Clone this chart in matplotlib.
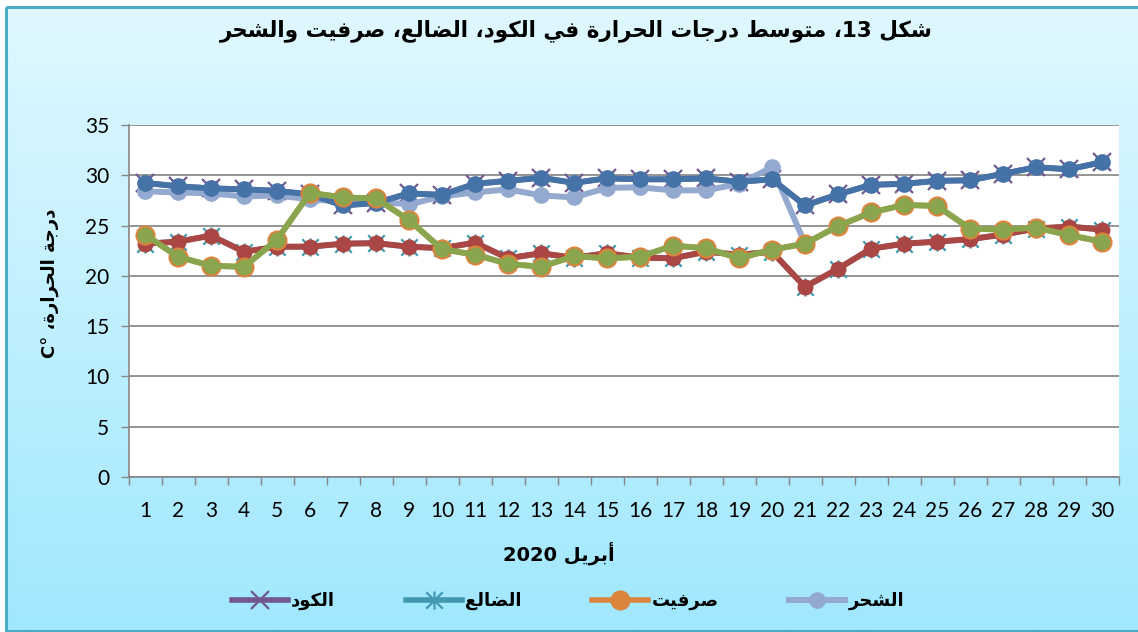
import re
import numpy as np
import matplotlib
matplotlib.use("Agg")
import matplotlib.pyplot as plt
from matplotlib.path import Path
from matplotlib.patches import Rectangle

# daily mean temperature, April 2020
days = list(range(1, 31))
kod = [29.25, 28.9, 28.7, 28.6, 28.45, 28.1, 27.0, 27.25, 28.2, 28.05,
       29.15, 29.45, 29.75, 29.25, 29.7, 29.6, 29.6, 29.7, 29.35, 29.6,
       27.0, 28.1, 29.05, 29.15, 29.45, 29.5, 30.15, 30.8, 30.6, 31.3]
dhale = [23.2, 23.4, 24.0, 22.4, 22.9, 22.9, 23.2, 23.25, 22.9, 22.75,
         23.3, 21.75, 22.25, 21.8, 22.25, 21.8, 21.75, 22.4, 22.1, 22.4,
         18.9, 20.7, 22.7, 23.2, 23.4, 23.65, 24.1, 24.7, 24.9, 24.6]
sarfait = [24.1, 21.9, 21.0, 20.9, 23.6, 28.25, 27.8, 27.7, 25.55, 22.65,
           22.1, 21.2, 20.9, 21.95, 21.75, 21.9, 23.0, 22.75, 21.75, 22.6,
           23.2, 24.95, 26.3, 27.05, 26.95, 24.7, 24.6, 24.8, 24.05, 23.4]
shihr = [28.4, 28.3, 28.2, 27.9, 28.0, 27.6, 27.4, 27.4, 27.1, 27.9,
         28.3, 28.6, 28.0, 27.8, 28.75, 28.8, 28.5, 28.5, 29.15, 30.8,
         23.2] + [np.nan] * 9

yticks = [0, 5, 10, 15, 20, 25, 30, 35]
title = "شكل 13، متوسط درجات الحرارة في الكود، الضالع، صرفيت والشحر"
xlabel = "أبريل 2020"
ylabel = "درجة الحرارة، C°"
names = ["الكود", "الضالع", "صرفيت", "الشحر"]

# matplotlib has no arabic shaping, so do it by hand with presentation forms
FORMS = {
    'ا': '\ufe8d\ufe8e', 'أ': '\ufe83\ufe84', 'ب': '\ufe8f\ufe90\ufe91\ufe92',
    'ة': '\ufe93\ufe94', 'ت': '\ufe95\ufe96\ufe97\ufe98', 'ج': '\ufe9d\ufe9e\ufe9f\ufea0',
    'ح': '\ufea1\ufea2\ufea3\ufea4', 'د': '\ufea9\ufeaa', 'ر': '\ufead\ufeae',
    'س': '\ufeb1\ufeb2\ufeb3\ufeb4', 'ش': '\ufeb5\ufeb6\ufeb7\ufeb8', 'ص': '\ufeb9\ufeba\ufebb\ufebc',
    'ض': '\ufebd\ufebe\ufebf\ufec0', 'ط': '\ufec1\ufec2\ufec3\ufec4', 'ع': '\ufec9\ufeca\ufecb\ufecc',
    'ف': '\ufed1\ufed2\ufed3\ufed4', 'ك': '\ufed9\ufeda\ufedb\ufedc', 'ل': '\ufedd\ufede\ufedf\ufee0',
    'م': '\ufee1\ufee2\ufee3\ufee4', 'و': '\ufeed\ufeee', 'ي': '\ufef1\ufef2\ufef3\ufef4',
}


def shape(text):
    out = []
    for i, ch in enumerate(text):
        f = FORMS.get(ch)
        if f is None:
            out.append(ch)
            continue
        prev = text[i - 1] if i > 0 else ''
        nxt = text[i + 1] if i + 1 < len(text) else ''
        jp = prev in FORMS and len(FORMS[prev]) == 4
        jn = len(f) == 4 and nxt in FORMS
        if jp and jn:
            out.append(f[3])
        elif jp:
            out.append(f[1])
        elif jn:
            out.append(f[2])
        else:
            out.append(f[0])
    return ''.join(out)


def ar(text):
    parts = re.split(r'([A-Za-z0-9°]+)', shape(text))
    return ''.join(p if re.fullmatch(r'[A-Za-z0-9°]+', p) else p[::-1]
                   for p in reversed(parts))


W, H = 1138, 632
fig = plt.figure(figsize=(W / 100, H / 100), dpi=100)
fig.patch.set_facecolor('white')

# gradient background + border
bg = fig.add_axes([0, 0, 1, 1], zorder=-10)
bg.set_xlim(0, W)
bg.set_ylim(H, 0)
bg.axis('off')
top_c = np.array([224, 248, 255]) / 255
bot_c = np.array([160, 232, 254]) / 255
t = np.linspace(0, 1, 256)[:, None]
grad = (top_c * (1 - t) + bot_c * t)[:, None, :]
bg.imshow(grad, extent=(7, W + 2, H - 2, 7), aspect='auto', interpolation='bilinear')
bg.add_patch(Rectangle((6.5, 6.5), W, H - 7.5, fill=False, ec='#4BACC6', lw=2.2))

ax = fig.add_axes([128.5 / W, 1 - 477 / H, 990 / W, 352 / H], zorder=1)
ax.set_facecolor('white')

star = Path([(-1, -1), (1, 1), (-1, 1), (1, -1), (0, -1.1), (0, 1.1)],
            [Path.MOVETO, Path.LINETO, Path.MOVETO, Path.LINETO, Path.MOVETO, Path.LINETO])

l_kod, = ax.plot(days, kod, color='#71588F', lw=4, marker='x', ms=13, mew=1.6, zorder=2)
l_shihr, = ax.plot(days, shihr, color='#93A9CF', lw=4.3, marker='o', ms=11, zorder=3)
ax.plot(days, kod, color='#4572A7', lw=4.3, marker='o', ms=11, zorder=4)
l_dhale, = ax.plot(days, dhale, color='#4198AF', lw=4, marker=star, ms=13, mew=1.6, zorder=5)
ax.plot(days, dhale, color='#AA4643', lw=4.3, marker='o', ms=10.5, zorder=6)
l_sarf, = ax.plot(days, sarfait, color='#DB843D', lw=4, marker='o', ms=13.5, zorder=7)
ax.plot(days, sarfait, color='#89A54E', lw=4.3, marker='o', ms=10.5, zorder=8)

ax.set_xlim(0.5, 30.5)
ax.set_ylim(0, 35)
ax.set_yticks(yticks)
ax.set_xticks(days)
ax.set_xticks(np.arange(0.5, 31, 1), minor=True)
ax.tick_params(axis='x', which='major', length=0, pad=17, labelsize=15)
ax.tick_params(axis='x', which='minor', length=6, width=1, color='#868686', direction='out')
ax.tick_params(axis='y', length=6, width=1, color='#868686', pad=8, labelsize=15)
for lab in ax.get_xticklabels() + ax.get_yticklabels():
    lab.set_fontfamily('Lato')
ax.grid(axis='y', color='#8C8C8C', lw=1.3)
ax.set_axisbelow(True)
for s in ['top', 'right']:
    ax.spines[s].set_visible(False)
for s in ['left', 'bottom']:
    ax.spines[s].set_color('#868686')
    ax.spines[s].set_linewidth(1.2)

fig.text(576 / W, 1 - 31 / H, ar(title), ha='center', va='center',
         fontsize=15.5, fontweight='bold', family='DejaVu Sans')
fig.text(559 / W, 1 - 553 / H, ar(xlabel), ha='center', va='center',
         fontsize=14, fontweight='bold', family='DejaVu Sans')
fig.text(50 / W, 1 - 283 / H, ar(ylabel), ha='center', va='center', rotation=90,
         fontsize=13, fontweight='bold', family='DejaVu Sans')

fig.legend([l_kod, l_dhale, l_sarf, l_shihr], [ar(n) for n in names],
           loc='center', bbox_to_anchor=(568 / W, 1 - 601 / H), ncol=4, frameon=False,
           prop={'family': 'DejaVu Sans', 'weight': 'bold', 'size': 13},
           handlelength=3.1, handletextpad=0.2, columnspacing=3.9)

fig.savefig('out.png', dpi=100)
